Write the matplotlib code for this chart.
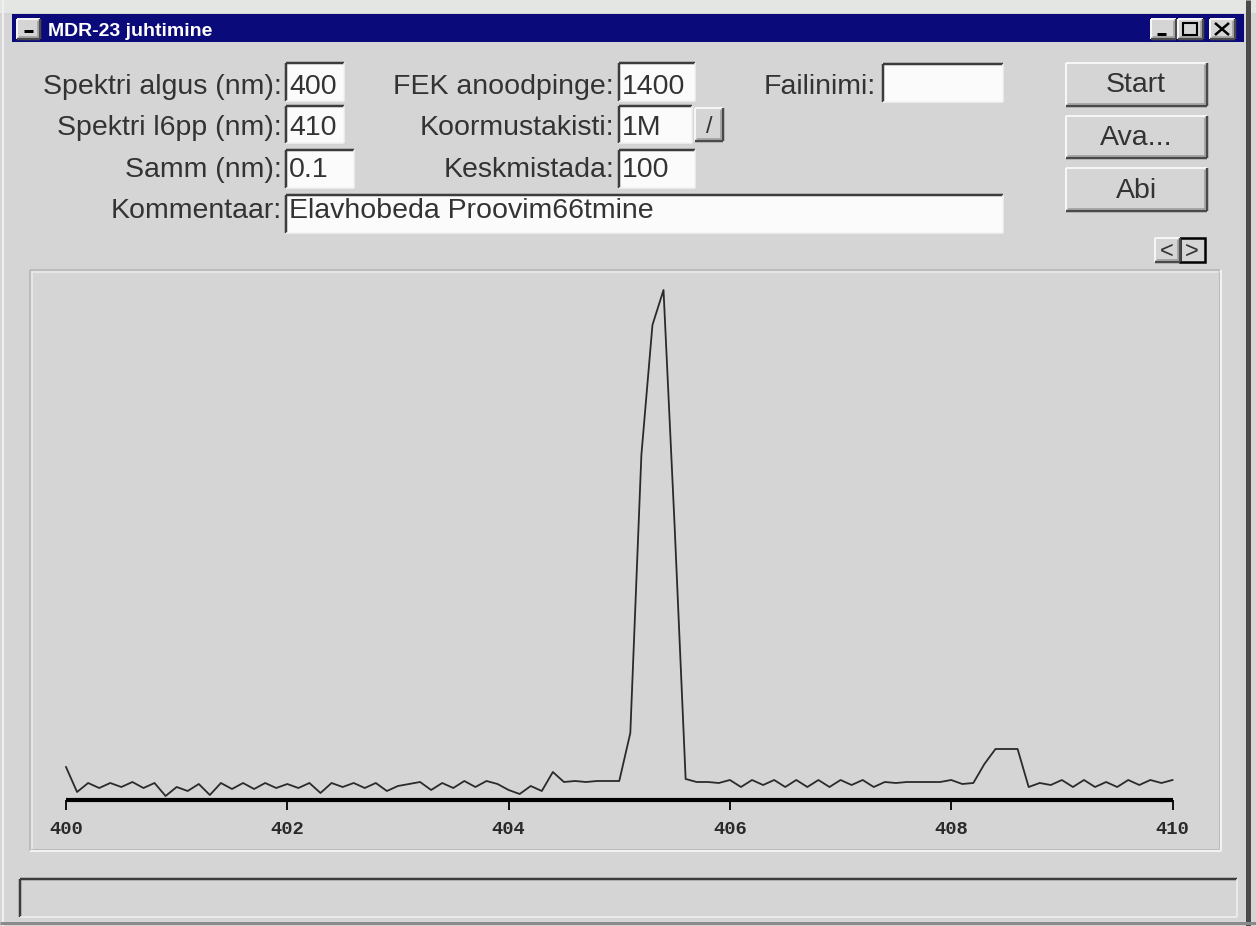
import numpy as np
import matplotlib.pyplot as plt
from matplotlib.patches import Rectangle

# settings shown in the form
spektri_algus = 400
spektri_lopp = 410
samm = 0.1

# detector signal, one value per 0.1 nm step
signaal = [
    33, 8, 17, 12, 17, 13, 18, 12, 17, 4,        # 400.0 - 400.9
    13, 9, 16, 5, 17, 11, 17, 11, 17, 12,        # 401.0 - 401.9
    16, 12, 17, 7, 17, 13, 17, 12, 17, 9,        # 402.0 - 402.9
    14, 16, 18, 10, 17, 12, 19, 13, 19, 16,      # 403.0 - 403.9
    10, 6, 14, 9, 28, 18, 19, 18, 19, 19,        # 404.0 - 404.9
    19, 67, 345, 475, 510, 275, 21, 18, 18, 17,  # 405.0 - 405.9
    20, 13, 20, 15, 20, 13, 20, 13, 20, 13,      # 406.0 - 406.9
    20, 15, 20, 13, 18, 17, 18, 18, 18, 18,      # 407.0 - 407.9
    20, 16, 17, 36, 51, 51, 51, 13, 17, 15,      # 408.0 - 408.9
    20, 13, 20, 13, 18, 13, 20, 15, 20, 17,      # 409.0 - 409.9
    20,                                          # 410.0
]
lainepikkus = np.round(spektri_algus + samm * np.arange(len(signaal)), 1)
x_ticks = [400, 402, 404, 406, 408, 410]

# form texts
pealkiri = "MDR-23 juhtimine"
sildid_1 = ["Spektri algus (nm):", "Spektri l6pp (nm):", "Samm (nm):", "Kommentaar:"]
vaartused_1 = ["400", "410", "0.1", "Elavhobeda Proovim66tmine"]
sildid_2 = ["FEK anoodpinge:", "Koormustakisti:", "Keskmistada:"]
vaartused_2 = ["1400", "1M", "100"]
silt_3 = "Failinimi:"
nupud = ["Start", "Ava...", "Abi"]

W, H = 1256, 926
BG = '#d5d5d5'
DARK = '#3c3c3c'
TXT = '#333333'
FONT = 'Liberation Sans'
FS = 20.5

fig = plt.figure(figsize=(W / 100, H / 100), dpi=100, facecolor=BG)
bg = fig.add_axes([0, 0, 1, 1])
bg.set_xlim(0, W)
bg.set_ylim(H, 0)
bg.axis('off')


def line(x0, y0, x1, y1, color, w):
    bg.plot([x0, x1], [y0, y1], color=color, lw=w * 0.72, solid_capstyle='butt')


def sunken(x0, y0, x1, y1, fill='#fbfbfb'):
    bg.add_patch(Rectangle((x0, y0), x1 - x0, y1 - y0, facecolor=fill, edgecolor='none'))
    line(x0, y0, x1, y0, DARK, 2.5)
    line(x0, y0, x0, y1, DARK, 2.5)
    line(x0, y1, x1, y1, '#f2f2f2', 1.5)
    line(x1, y0, x1, y1, '#f2f2f2', 1.5)


def raised(x0, y0, x1, y1, fill=BG):
    bg.add_patch(Rectangle((x0, y0), x1 - x0, y1 - y0, facecolor=fill, edgecolor='none'))
    line(x0, y0, x1, y0, '#f6f6f6', 2)
    line(x0, y0, x0, y1, '#f6f6f6', 2)
    line(x0, y1, x1, y1, '#4a4a4a', 2.5)
    line(x1, y0, x1, y1, '#4a4a4a', 2.5)
    line(x0 + 2, y1 - 2, x1 - 2, y1 - 2, '#9a9a9a', 1.5)
    line(x1 - 2, y0 + 2, x1 - 2, y1 - 2, '#9a9a9a', 1.5)


# window frame
bg.add_patch(Rectangle((0, 0), W, 13, facecolor='#e4e6e4', edgecolor='none'))
line(3, 0, 3, H, '#f0f0f0', 2)
line(1248, 0, 1248, H, '#4a4a4a', 5)
line(0, 923, W, 923, '#8a8a8a', 3)

# title bar
bg.add_patch(Rectangle((12, 14), 1232, 28, facecolor='#0a0a7a', edgecolor='none'))
raised(17, 19, 40, 39)
line(24, 31, 33, 31, 'black', 3)
bg.text(48, 36, pealkiri, color='white', fontsize=14, fontweight='bold',
        family=FONT, va='baseline')
for x0 in [1151, 1178, 1210]:
    raised(x0, 19, x0 + 25, 39)
line(1157, 34, 1166, 34, 'black', 3)
bg.add_patch(Rectangle((1183, 23), 14, 12, facecolor='none', edgecolor='black', lw=1.5))
line(1215, 23, 1229, 35, 'black', 2.5)
line(1215, 35, 1229, 23, 'black', 2.5)

# first column of fields
rida_y = [94, 135, 177, 218]
kast_1 = [(286, 63, 344, 101), (286, 106, 344, 143), (286, 150, 354, 188), (286, 195, 1003, 233)]
for silt, vaartus, y, (x0, y0, x1, y1) in zip(sildid_1, vaartused_1, rida_y, kast_1):
    bg.text(282, y, silt, ha='right', va='baseline', fontsize=FS, family=FONT, color=TXT)
    sunken(x0, y0, x1, y1)
    bg.text(x0 + 3, y, vaartus, ha='left', va='baseline', fontsize=FS, family=FONT, color=TXT)

# second column
kast_2 = [(619, 63, 695, 101), (619, 106, 692, 143), (619, 150, 695, 188)]
for silt, vaartus, y, (x0, y0, x1, y1) in zip(sildid_2, vaartused_2, rida_y, kast_2):
    bg.text(614, y, silt, ha='right', va='baseline', fontsize=FS, family=FONT, color=TXT)
    sunken(x0, y0, x1, y1)
    bg.text(x0 + 3, y, vaartus, ha='left', va='baseline', fontsize=FS, family=FONT, color=TXT)
raised(695, 108, 723, 141)
bg.text(709, 133, '/', ha='center', va='baseline', fontsize=17, family=FONT, color=TXT)

# file name
bg.text(876, rida_y[0], silt_3, ha='right', va='baseline', fontsize=FS, family=FONT, color=TXT)
sunken(883, 64, 1003, 102)

# buttons
for nupp, (y0, y1) in zip(nupud, [(63, 106), (116, 158), (168, 211)]):
    raised(1066, y0, 1207, y1)
    bg.text(1136, (y0 + y1) / 2 + 1, nupp, ha='center', va='center', fontsize=FS,
            family=FONT, color=TXT)
raised(1155, 238, 1180, 262)
bg.text(1167, 252, '<', ha='center', va='center', fontsize=17, family=FONT, color=TXT)
bg.add_patch(Rectangle((1180, 238), 25, 24, facecolor=BG, edgecolor='black', lw=1.8))
bg.text(1192, 252, '>', ha='center', va='center', fontsize=17, family=FONT, color=TXT)

# chart panel
line(30, 270, 1220, 270, '#b4b4b4', 1.5)
line(30, 270, 30, 851, '#b4b4b4', 1.5)
line(31, 272, 1218, 272, '#ececec', 1.5)
line(32, 272, 32, 849, '#ececec', 1.5)
line(30, 851, 1221, 851, '#f2f2f2', 2)
line(1221, 270, 1221, 851, '#f2f2f2', 2)
line(31, 849, 1219, 849, '#bababa', 1)
line(1219, 272, 1219, 849, '#bababa', 1)

# status bar
sunken(20, 879, 1237, 917, fill=BG)

# the spectrum
ax = fig.add_axes([66 / W, (H - 800) / H, 1106.5 / W, 520 / H])
ax.patch.set_alpha(0)
ax.plot(lainepikkus, signaal, color='#2a2a2a', lw=1.3, clip_on=False, zorder=3)
ax.set_xlim(spektri_algus, spektri_lopp)
ax.set_ylim(0, 520)
for s in ['top', 'left', 'right']:
    ax.spines[s].set_visible(False)
ax.spines['bottom'].set_linewidth(3)
ax.spines['bottom'].set_color('black')
ax.spines['bottom'].set_capstyle('butt')
ax.set_yticks([])
ax.set_xticks(x_ticks)
ax.set_xticklabels([str(t) for t in x_ticks])
ax.tick_params(axis='x', direction='out', length=7, width=1.3, color='black', pad=8,
               labelsize=13.5, labelcolor='#2a2a2a')
for lbl in ax.get_xticklabels():
    lbl.set_fontfamily('Liberation Mono')
    lbl.set_fontweight('bold')

fig.savefig('out.png', dpi=100, facecolor=BG)
